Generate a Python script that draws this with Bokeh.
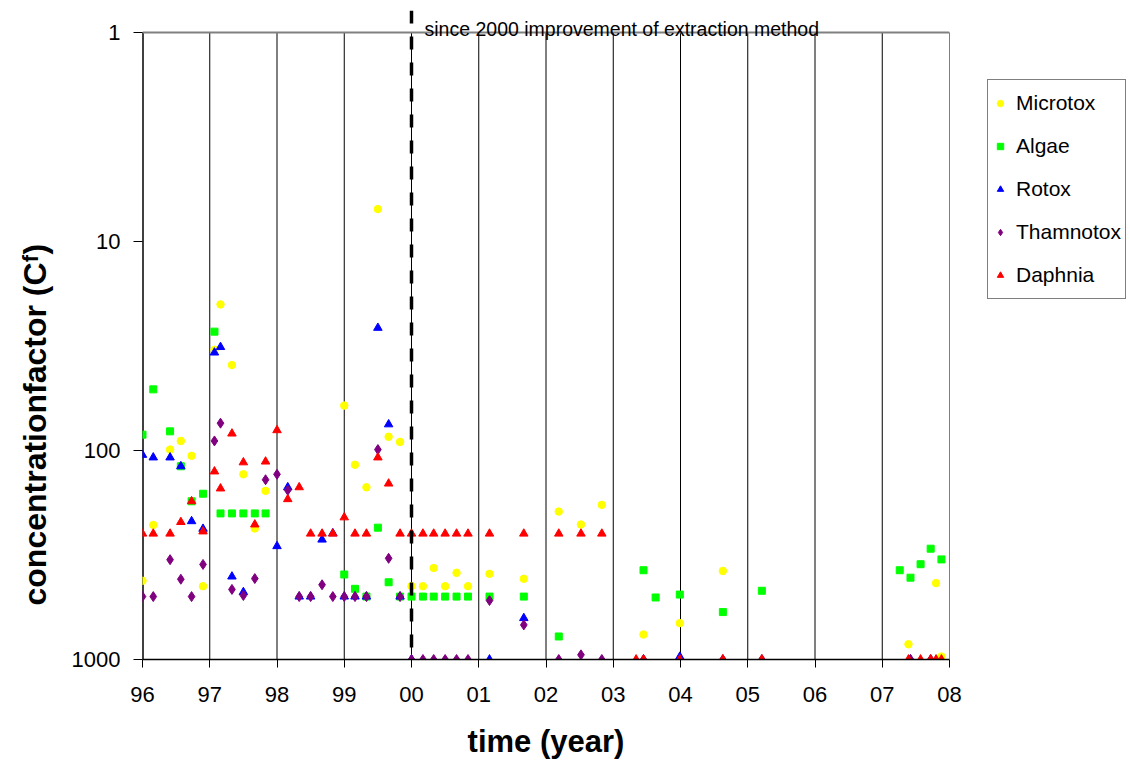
from bokeh.plotting import figure
from bokeh.layouts import row
from bokeh.models import FixedTicker, Span, Label, Legend, LegendItem, Range1d, Title
from bokeh.embed import file_html
from bokeh.resources import INLINE

# ---------------- data ----------------
year_ticks = [1996, 1997, 1998, 1999, 2000, 2001, 2002, 2003, 2004, 2005, 2006, 2007, 2008]
year_labels = ["96", "97", "98", "99", "00", "01", "02", "03", "04", "05", "06", "07", "08"]
conc_ticks = [1, 10, 100, 1000]
conc_labels = ["1", "10", "100", "1000"]

microtox_x = [1996.00, 1996.16, 1996.41, 1996.57, 1996.73, 1996.90, 1997.07, 1997.16, 1997.33, 1997.50,
              1997.67, 1997.83, 1999.00, 1999.16, 1999.33, 1999.50, 1999.66, 1999.83, 2000.00, 2000.17,
              2000.33, 2000.50, 2000.67, 2000.84, 2001.16, 2001.67, 2002.19, 2002.52, 2002.83, 2003.45,
              2003.99, 2004.63, 2007.39, 2007.80, 2007.88]
microtox_y = [420, 227, 99, 90, 106, 446, 33, 20, 39, 130,
              236, 156, 61, 117, 150, 7.0, 86, 91, 446, 446,
              365, 446, 385, 446, 389, 411, 196, 226, 182, 759,
              670, 377, 845, 431, 968]

algae_x = [1996.00, 1996.16, 1996.41, 1996.57, 1996.73, 1996.90, 1997.07, 1997.16, 1997.33, 1997.50,
           1997.67, 1997.83, 1999.00, 1999.16, 1999.33, 1999.50, 1999.66, 1999.83, 2000.00, 2000.17,
           2000.33, 2000.50, 2000.67, 2000.84, 2001.16, 2001.67, 2002.19, 2003.45, 2003.63, 2003.99,
           2004.63, 2005.21, 2007.26, 2007.42, 2007.57, 2007.72, 2007.88]
algae_y = [84, 51, 81, 119, 175, 161, 27, 200, 200, 200,
           200, 200, 392, 459, 500, 234, 427, 500, 500, 500,
           500, 500, 500, 500, 500, 500, 776, 374, 505, 489,
           593, 469, 374, 406, 350, 295, 332]

rotox_x = [1996.00, 1996.16, 1996.41, 1996.57, 1996.73, 1996.90, 1997.07, 1997.16, 1997.33, 1997.50,
           1998.00, 1998.16, 1998.33, 1998.50, 1998.67, 1998.83, 1999.00, 1999.16, 1999.33, 1999.50,
           1999.66, 1999.83, 2000.00, 2001.16, 2001.67, 2003.99, 2007.42]
rotox_y = [105, 108, 108, 119, 218, 237, 34, 32, 401, 476,
           287, 150, 500, 500, 267, 249, 500, 500, 500, 25.9,
           75, 500, 1000, 1000, 634, 970, 1000]

thamnotox_x = [1996.00, 1996.16, 1996.41, 1996.57, 1996.73, 1996.90, 1997.07, 1997.16, 1997.33, 1997.50,
               1997.67, 1997.83, 1998.00, 1998.16, 1998.33, 1998.50, 1998.67, 1998.83, 1999.00, 1999.16,
               1999.33, 1999.50, 1999.66, 1999.83, 2000.00, 2000.17, 2000.33, 2000.50, 2000.67, 2000.84,
               2001.16, 2001.67, 2002.19, 2002.52, 2002.83, 2003.45, 2004.63, 2005.21, 2007.42, 2007.72]
thamnotox_y = [500, 500, 333, 413, 500, 351, 90, 74, 462, 494,
               410, 138, 130, 155, 500, 500, 439, 500, 500, 500,
               500, 99, 328, 500, 1000, 1000, 1000, 1000, 1000, 1000,
               522, 683, 1000, 950, 1000, 1000, 1000, 1000, 1000, 1000]

daphnia_x = [1996.00, 1996.16, 1996.41, 1996.57, 1996.73, 1996.90, 1997.07, 1997.16, 1997.33, 1997.50,
             1997.67, 1997.83, 1998.00, 1998.16, 1998.33, 1998.50, 1998.67, 1998.83, 1999.00, 1999.16,
             1999.33, 1999.50, 1999.66, 1999.83, 2000.00, 2000.17, 2000.33, 2000.50, 2000.67, 2000.84,
             2001.16, 2001.67, 2002.19, 2002.52, 2002.83, 2003.34, 2003.45, 2003.99, 2004.63, 2005.21,
             2007.39, 2007.57, 2007.72, 2007.80, 2007.88]
daphnia_y = [250, 250, 250, 220, 175, 244, 126, 152, 83, 114,
             226, 113, 80, 171, 150, 250, 250, 250, 209, 250,
             250, 108, 144, 250, 250, 250, 250, 250, 250, 250,
             250, 250, 250, 250, 250, 1000, 1000, 1000, 1000, 1000,
             1000, 1000, 1000, 1000, 1000]

series_names = ["Microtox", "Algae", "Rotox", "Thamnotox", "Daphnia"]
series_x = [microtox_x, algae_x, rotox_x, thamnotox_x, daphnia_x]
series_y = [microtox_y, algae_y, rotox_y, thamnotox_y, daphnia_y]
series_colors = ["#FFFF00", "#00FF00", "#0000FF", "#800080", "#FF0000"]
series_markers = ["circle", "square", "triangle", "diamond", "triangle"]
series_sizes = [7.5, 7, 8.5, 10, 8.5]

FONT = "Liberation Sans"

# ---------------- main figure ----------------
p = figure(width=970, height=762, output_backend="svg", toolbar_location=None,
           x_range=Range1d(1996, 2008), y_range=Range1d(1000, 0.785), y_axis_type="log",
           min_border_left=142, min_border_right=21, min_border_top=10, min_border_bottom=103)
p.outline_line_color = None
p.xgrid.visible = False
p.ygrid.visible = False
p.background_fill_color = "white"
p.border_fill_color = "white"

n = len(year_ticks)
p.segment(x0=year_ticks, y0=[conc_ticks[0]] * n, x1=year_ticks, y1=[conc_ticks[-1]] * n,
          line_color="black", line_width=1)
p.segment(x0=[year_ticks[0]], y0=[conc_ticks[0]], x1=[year_ticks[0]], y1=[conc_ticks[-1]],
          line_color="black", line_width=2.5)
p.segment(x0=[year_ticks[0]], y0=[conc_ticks[0]], x1=[year_ticks[-1]], y1=[conc_ticks[0]],
          line_color="#808080", line_width=2)

p.add_layout(Span(location=2000, dimension="height", line_color="black", line_width=3.5,
                  line_dash="13 13"))

p.add_layout(Label(x=2000, y=1, x_offset=13, y_offset=3,
                   text="since 2000 improvement of extraction method",
                   text_font=FONT, text_font_size="19.5px", text_baseline="alphabetic",
                   text_color="black"))

for xs, ys, c, m, s in zip(series_x, series_y, series_colors, series_markers, series_sizes):
    p.scatter(xs, ys, marker=m, size=s, fill_color=c, line_color=c)

xa = p.xaxis[0]
xa.ticker = FixedTicker(ticks=year_ticks, minor_ticks=[])
xa.major_label_overrides = {t: l for t, l in zip(year_ticks, year_labels)}
xa.major_tick_out = 8
xa.major_tick_in = 0
xa.axis_line_width = 1.5
xa.axis_line_color = "black"
xa.major_tick_line_color = "black"
xa.major_label_text_font = FONT
xa.major_label_text_font_size = "22px"
xa.major_label_text_color = "black"
xa.major_label_standoff = 19
xa.axis_label = "time (year)"
xa.axis_label_text_font = FONT
xa.axis_label_text_font_style = "bold"
xa.axis_label_text_font_size = "31px"
xa.axis_label_text_color = "black"
xa.axis_label_standoff = 19

ya = p.yaxis[0]
ya.ticker = FixedTicker(ticks=conc_ticks, minor_ticks=[])
ya.major_label_overrides = {t: l for t, l in zip(conc_ticks, conc_labels)}
ya.axis_line_color = None
ya.major_tick_out = 9
ya.major_tick_in = 0
ya.major_tick_line_color = "black"
ya.major_label_text_font = FONT
ya.major_label_text_font_size = "22px"
ya.major_label_text_color = "black"
ya.major_label_standoff = 13

# y axis title as a side title so it can start lower, like the reference
p.add_layout(Title(text="concentrationfactor (C\u1da0)", align="left", offset=54,
                   vertical_align="top",
                   text_font=FONT, text_font_style="bold", text_font_size="32px",
                   text_color="black", standoff=28), "left")

# ---------------- legend figure ----------------
q = figure(width=160, height=762, output_backend="svg", toolbar_location=None,
           x_range=Range1d(0, 1), y_range=Range1d(0, 1),
           x_axis_location=None, y_axis_location=None, min_border=0)
q.outline_line_color = None
q.xgrid.visible = False
q.ygrid.visible = False
q.background_fill_color = "white"
q.border_fill_color = "white"

# legend proxies: one point each, placed outside the visible range of this panel
items = []
for name, c, m, s in zip(series_names, series_colors, series_markers, series_sizes):
    r = q.scatter([-5], [-5], marker=m, size=s, fill_color=c, line_color=c)
    items.append(LegendItem(label=name, renderers=[r]))

legend = Legend(items=items, location=(17, 360), margin=0, padding=4, spacing=5,
                label_height=38, glyph_height=38, glyph_width=16, label_standoff=8,
                label_text_font=FONT, label_text_font_size="21px", label_text_color="black",
                border_line_color="black", border_line_width=1, background_fill_color="white",
                background_fill_alpha=1)
q.add_layout(legend)

layout = row(p, q, spacing=0)
open("out.html", "w").write(file_html(layout, INLINE))
